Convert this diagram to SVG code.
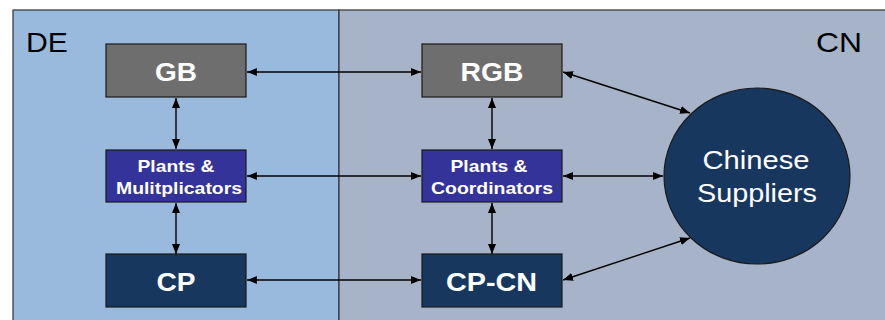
<svg xmlns="http://www.w3.org/2000/svg" width="885" height="320" viewBox="0 0 885 320">
<defs>
<marker id="ah" viewBox="0 0 10 8" refX="10" refY="4" markerWidth="10" markerHeight="8" markerUnits="userSpaceOnUse" orient="auto-start-reverse">
<path d="M0,0 L10,4 L0,8 Z" fill="#000"/>
</marker>
<style>
.box{stroke:#1a1a1a;stroke-width:1.2}
.gray{fill:#6e6e6e}
.purple{fill:#333399}
.navy{fill:#17375e}
.lbl{font-family:"Liberation Sans",Arial,sans-serif;font-weight:bold;fill:#fff;text-anchor:middle}
.region{font-family:"Liberation Sans",Arial,sans-serif;fill:#000}
.conn{stroke:#000;stroke-width:1.4;fill:none;marker-start:url(#ah);marker-end:url(#ah)}
</style>
</defs>
<rect x="0" y="0" width="885" height="320" fill="#fff"/>
<rect x="13" y="10" width="326" height="320" fill="#99badd" stroke="#333" stroke-width="1.2"/>
<rect x="339" y="10" width="560" height="320" fill="#a7b3c8" stroke="#333" stroke-width="1.2"/>
<text class="region" x="26" y="52" font-size="28" textLength="42" lengthAdjust="spacingAndGlyphs">DE</text>
<text class="region" x="816" y="52" font-size="28" textLength="46" lengthAdjust="spacingAndGlyphs">CN</text>

<g id="connectors">
<line class="conn" x1="247" y1="72" x2="421" y2="72"/>
<line class="conn" x1="247" y1="176" x2="421" y2="176"/>
<line class="conn" x1="247" y1="280" x2="421" y2="280"/>
<line class="conn" x1="176" y1="98" x2="176" y2="149"/>
<line class="conn" x1="176" y1="203" x2="176" y2="254"/>
<line class="conn" x1="492" y1="98" x2="492" y2="149"/>
<line class="conn" x1="492" y1="203" x2="492" y2="254"/>
<line class="conn" x1="563" y1="72" x2="690" y2="113"/>
<line class="conn" x1="563" y1="176" x2="663" y2="176"/>
<line class="conn" x1="563" y1="280" x2="690" y2="238"/>
</g>

<g id="GB">
<rect class="box gray" x="106" y="44" width="140" height="53"/>
<text class="lbl" x="176" y="81" font-size="25" textLength="42" lengthAdjust="spacingAndGlyphs">GB</text>
</g>
<g id="PlantsMult">
<rect class="box purple" x="106" y="150" width="140" height="52"/>
<text class="lbl" x="176" y="172" font-size="17" textLength="77" lengthAdjust="spacingAndGlyphs">Plants &amp;</text>
<text class="lbl" x="179" y="193.5" font-size="17" textLength="126" lengthAdjust="spacingAndGlyphs">Mulitplicators</text>
</g>
<g id="CP">
<rect class="box navy" x="106" y="254" width="140" height="53"/>
<text class="lbl" x="176" y="290.5" font-size="25" textLength="39" lengthAdjust="spacingAndGlyphs">CP</text>
</g>
<g id="RGB">
<rect class="box gray" x="422" y="44" width="140" height="53"/>
<text class="lbl" x="492" y="80.5" font-size="25" textLength="63" lengthAdjust="spacingAndGlyphs">RGB</text>
</g>
<g id="PlantsCoord">
<rect class="box purple" x="422" y="150" width="140" height="52"/>
<text class="lbl" x="489" y="172" font-size="17" textLength="77" lengthAdjust="spacingAndGlyphs">Plants &amp;</text>
<text class="lbl" x="492" y="193.5" font-size="17" textLength="122" lengthAdjust="spacingAndGlyphs">Coordinators</text>
</g>
<g id="CPCN">
<rect class="box navy" x="422" y="254" width="140" height="53"/>
<text class="lbl" x="491.5" y="290.5" font-size="25" textLength="91" lengthAdjust="spacingAndGlyphs">CP-CN</text>
</g>
<g id="ChineseSuppliers">
<ellipse cx="757" cy="176" rx="93" ry="88" fill="#17375e" stroke="#1a1a1a" stroke-width="1.2"/>
<text x="756" y="169" font-family="&quot;Liberation Sans&quot;,Arial,sans-serif" font-size="26.5" fill="#fff" text-anchor="middle" textLength="107" lengthAdjust="spacingAndGlyphs">Chinese</text>
<text x="757" y="201.5" font-family="&quot;Liberation Sans&quot;,Arial,sans-serif" font-size="26.5" fill="#fff" text-anchor="middle" textLength="120" lengthAdjust="spacingAndGlyphs">Suppliers</text>
</g>
</svg>
